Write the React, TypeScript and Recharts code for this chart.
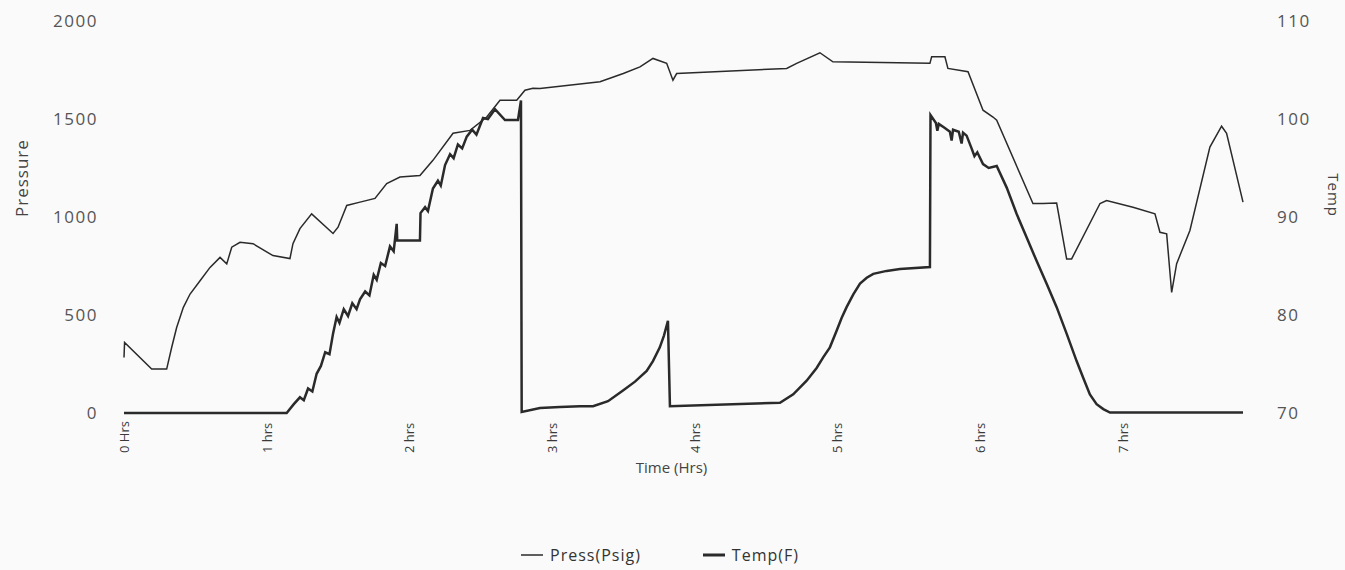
import React from 'react'
import { LineChart, Line, XAxis, YAxis, Legend } from 'recharts'

// pressure trace (left axis), hours vs psig
const pressHours = [
  0, 0.004, 0.194, 0.299, 0.334, 0.369, 0.416, 0.463, 0.533, 0.603, 0.673, 0.72, 0.755, 0.813, 0.904, 1.044,
  1.163, 1.184, 1.233, 1.315, 1.465, 1.5, 1.561, 1.654, 1.759, 1.841, 1.934, 2.074, 2.165, 2.306, 2.425, 2.542,
  2.635, 2.752, 2.81, 2.866, 2.915, 3.336, 3.499, 3.616, 3.707, 3.803, 3.847, 3.873, 4.644, 4.714, 4.877, 4.968,
  5.648, 5.66, 5.753, 5.774, 5.915, 6.02, 6.09, 6.116, 6.37, 6.44, 6.536, 6.606, 6.641, 6.84, 6.886, 7.071,
  7.225, 7.26, 7.307, 7.342, 7.377, 7.47, 7.61, 7.692, 7.727, 7.842,
]
const pressPsig = [
  283, 360, 224, 224, 334, 436, 539, 607, 675, 743, 794, 761, 846, 871, 864, 803,
  788, 864, 941, 1016, 916, 948, 1059, 1076, 1095, 1171, 1204, 1212, 1289, 1427, 1442, 1510,
  1596, 1596, 1647, 1657, 1656, 1690, 1732, 1766, 1809, 1784, 1698, 1732, 1758, 1784, 1838, 1792,
  1784, 1817, 1817, 1758, 1741, 1545, 1510, 1494, 1069, 1069, 1071, 786, 786, 1069, 1084, 1050,
  1016, 922, 914, 615, 762, 931, 1357, 1463, 1427, 1076,
]

// temperature trace (right axis), hours vs deg F
const tempHours = [
  0, 1.14, 1.19, 1.233, 1.26, 1.29, 1.32, 1.35, 1.38, 1.41, 1.44, 1.465, 1.49, 1.51, 1.54, 1.57,
  1.6, 1.63, 1.654, 1.69, 1.72, 1.75, 1.771, 1.8, 1.83, 1.864, 1.89, 1.911, 1.915, 2.074, 2.078, 2.11,
  2.13, 2.165, 2.2, 2.22, 2.25, 2.285, 2.31, 2.34, 2.37, 2.402, 2.44, 2.47, 2.516, 2.55, 2.6, 2.67,
  2.761, 2.782, 2.787, 2.915, 3.055, 3.196, 3.287, 3.392, 3.497, 3.581, 3.663, 3.707, 3.755, 3.784,
  3.812, 3.826, 4.597, 4.69, 4.784, 4.854, 4.901, 4.947, 4.994, 5.029, 5.064, 5.111, 5.158, 5.205,
  5.251, 5.345, 5.438, 5.648, 5.652, 5.69, 5.7, 5.71, 5.75, 5.788, 5.8, 5.81, 5.85, 5.87, 5.88, 5.905,
  5.94, 5.96, 5.98, 6.02, 6.06, 6.116, 6.186, 6.256, 6.326, 6.396, 6.466, 6.536, 6.606, 6.676, 6.722, 6.769,
  6.816, 6.863, 6.91, 7.842,
]
const tempF = [
  70, 70, 70.9, 71.6, 71.3, 72.5, 72.2, 74.0, 74.8, 76.2, 76.0, 78.1, 79.8, 79.2, 80.6, 79.9,
  81.2, 80.6, 81.6, 82.4, 82.0, 84.1, 83.6, 85.3, 85.0, 87.0, 86.5, 89.3, 87.6, 87.6, 90.4, 91.0,
  90.6, 92.9, 93.7, 93.2, 95.3, 96.4, 96.0, 97.4, 97.0, 98.2, 98.9, 98.4, 100.1, 100.0, 101.0, 99.9,
  99.9, 101.9, 70.1, 70.5, 70.6, 70.7, 70.7, 71.2, 72.3, 73.2, 74.3, 75.3, 76.7, 77.9,
  79.4, 70.7, 71.05, 71.9, 73.3, 74.6, 75.7, 76.7, 78.4, 79.7, 80.8, 82.1, 83.2, 83.8,
  84.2, 84.5, 84.7, 84.9, 100.4, 99.6, 98.8, 99.5, 99.1, 98.7, 97.8, 98.9, 98.7, 97.5, 98.6, 98.3,
  97.0, 96.2, 96.6, 95.4, 95.0, 95.2, 93.0, 90.3, 87.9, 85.5, 83.2, 80.8, 78.1, 75.3, 73.6, 71.9,
  70.9, 70.4, 70.05, 70.05,
]

const hourTicks = [0, 1, 2, 3, 4, 5, 6, 7]
const pressureTicks = [0, 500, 1000, 1500, 2000]
const tempTicks = [70, 80, 90, 100, 110]

const pressData = pressHours.map((t, i) => ({ t, press: pressPsig[i] }))
const tempData = tempHours.map((t, i) => ({ t, temp: tempF[i] }))

const FONT = '"Open Sans", sans-serif'
const LINE = '#2a2a2a'

const HourTick = (props: any) => {
  const { x, y, payload } = props
  const label = payload.value === 0 ? '0 Hrs' : `${payload.value} hrs`
  const ay = y + 32
  return (
    <text x={x} y={ay} transform={`rotate(-90, ${x}, ${ay})`} textAnchor="start" dominantBaseline="central"
      fontFamily={FONT} fontSize={13} fill="#3a3a3a">
      {label}
    </text>
  )
}

const LegendContent = () => (
  <div style={{ display: 'flex', justifyContent: 'center', gap: 62, fontFamily: FONT, fontSize: 16, letterSpacing: 1, color: '#333' }}>
    <span style={{ display: 'flex', alignItems: 'center' }}>
      <svg width={24} height={10} style={{ marginRight: 5 }}><line x1={0} y1={5} x2={22} y2={5} stroke={LINE} strokeWidth={1.5} /></svg>
      Press(Psig)
    </span>
    <span style={{ display: 'flex', alignItems: 'center' }}>
      <svg width={24} height={10} style={{ marginRight: 5 }}><line x1={0} y1={5} x2={22} y2={5} stroke={LINE} strokeWidth={3} /></svg>
      Temp(F)
    </span>
  </div>
)

export default function App() {
  return (
    <div style={{ position: 'absolute', left: 0, top: 0, width: 1345, height: 570, background: '#fafafa' }}>
      <LineChart width={1345} height={570} margin={{ top: 21, right: 0, bottom: 55, left: 0 }}>
        <XAxis
          xAxisId="h"
          type="number"
          dataKey="t"
          domain={[0, 7.842]}
          ticks={hourTicks}
          axisLine={false}
          tickLine={false}
          height={80}
          tick={<HourTick />}
          label={{ value: 'Time (Hrs)', position: 'insideBottom', offset: 20, fontFamily: FONT, fontSize: 15, fill: '#444', dx: -12 }}
        />
        <YAxis
          yAxisId="p"
          orientation="left"
          width={124}
          domain={[0, 2000]}
          ticks={pressureTicks}
          axisLine={false}
          tickLine={false}
          tickMargin={20}
          tick={{ fontFamily: FONT, fontSize: 17, fill: '#555', letterSpacing: 1.5 }}
          label={{ value: 'Pressure', angle: -90, position: 'insideLeft', offset: 22, fontFamily: FONT, fontSize: 17, fill: '#444', letterSpacing: 1 }}
        />
        <YAxis
          yAxisId="tf"
          orientation="right"
          width={102}
          domain={[70, 110]}
          ticks={tempTicks}
          axisLine={false}
          tickLine={false}
          tickMargin={28}
          tick={{ fontFamily: FONT, fontSize: 17, fill: '#555', letterSpacing: 1.5, textAnchor: 'start' }}
          label={{ value: 'Temp', angle: 90, position: 'insideRight', offset: 12, fontFamily: FONT, fontSize: 15, fill: '#444', letterSpacing: 1 }}
        />
        <Legend content={<LegendContent />} wrapperStyle={{ left: 0, width: 1320, bottom: 4 }} />
        <Line
          name="Press(Psig)"
          data={pressData}
          dataKey="press"
          xAxisId="h"
          yAxisId="p"
          type="linear"
          stroke={LINE}
          strokeWidth={1.5}
          dot={false}
          isAnimationActive={false}
        />
        <Line
          name="Temp(F)"
          data={tempData}
          dataKey="temp"
          xAxisId="h"
          yAxisId="tf"
          type="linear"
          stroke={LINE}
          strokeWidth={2.5}
          dot={false}
          isAnimationActive={false}
        />
      </LineChart>
    </div>
  )
}
